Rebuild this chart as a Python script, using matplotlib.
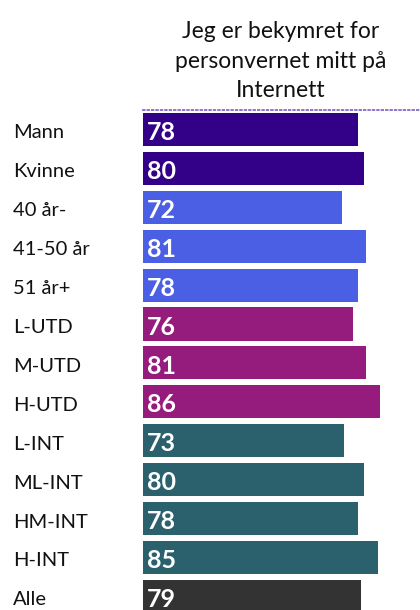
import matplotlib.pyplot as plt

plt.rcParams['font.family'] = ['Lato', 'DejaVu Sans']

# data
kategorier = ["Mann", "Kvinne", "40 år-", "41-50 år", "51 år+", "L-UTD", "M-UTD",
              "H-UTD", "L-INT", "ML-INT", "HM-INT", "H-INT", "Alle"]
verdier = [78, 80, 72, 81, 78, 76, 81, 86, 73, 80, 78, 85, 79]
grupper = ["kjonn", "kjonn", "alder", "alder", "alder", "utd", "utd", "utd",
           "int", "int", "int", "int", "alle"]
farger = {"kjonn": "#330088", "alder": "#4A5FE3", "utd": "#951B7D",
          "int": "#2A616D", "alle": "#333333"}
tittel = "Jeg er bekymret for\npersonvernet mitt på\nInternett"

fig = plt.figure(figsize=(4.2, 6.1), dpi=100)
ax = fig.add_axes([143 / 420, 0, 1 - 143 / 420, 1 - 110 / 610])

y = list(range(len(kategorier)))
ax.barh(y, verdier, height=0.85, color=[farger[g] for g in grupper])

# verdier inne i stolpene
for i, v in enumerate(verdier):
    ax.text(1.4, i + 0.08, str(v), color="white", fontsize=18, fontweight="bold",
            va="center", ha="left")

ax.set_xlim(0, 100.4)
ax.set_ylim(12.35, -0.5)
ax.set_xticks([])
ax.set_yticks([])
for s in ["left", "right", "bottom"]:
    ax.spines[s].set_visible(False)
ax.spines["top"].set_color("#7a5cc8")
ax.spines["top"].set_linestyle(":")
ax.spines["top"].set_linewidth(1.2)

# kategorinavn til venstre
for i, k in enumerate(kategorier):
    fig.text(13 / 420, 1 - (133 + i * 38.9) / 610, k, fontsize=14.5,
             va="center", ha="left", color="#111111")

fig.text(281 / 420, 1 - 61 / 610, tittel, fontsize=16.5, ha="center", va="center",
         linespacing=1.52, color="#111111")

fig.savefig("out.png", dpi=100)
